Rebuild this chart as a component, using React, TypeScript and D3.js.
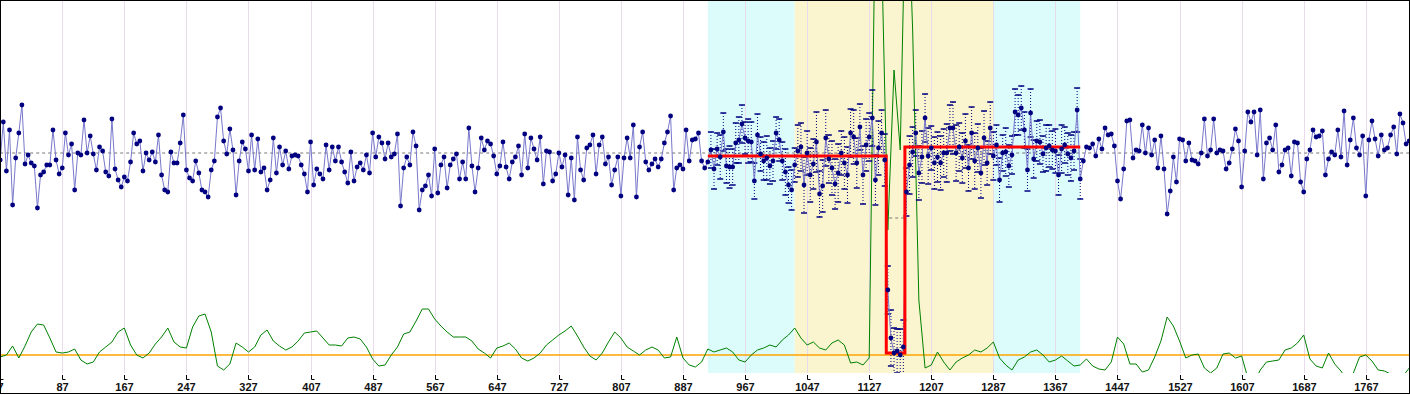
import * as d3 from "d3";
import { useEffect, useRef } from "react";

// chart size
const W = 1410;
const H = 395;
const plotBottom = 373;

// x axis (sample number)
const xFirst = 7;
const xLast = 1824;
const sampleStep = 4;
const greenStep = 8;
const tickLabels = [7, 87, 167, 247, 327, 407, 487, 567, 647, 727, 807, 887, 967, 1047, 1127, 1207, 1287, 1367, 1447, 1527, 1607, 1687, 1767];

// measured signal, one value every 4 samples, relative to the overall level
const signal = [
  -7, 31, -18, 23, -52, -5, 20, 48, -11, -2,
  -10, -13, -55, -22, -19, -12, -12, 23, -7, -21,
  -15, 20, -2, 9, -37, 0, -2, 33, 0, 17,
  -1, -17, 6, 2, -19, -23, 34, -16, -27, -34,
  -24, -28, -9, 20, 9, 12, -18, 0, -7, 1,
  -9, 18, -22, -37, -39, 1, -10, -10, 10, 38,
  -17, -25, -28, -8, -20, -37, -39, -44, -17, -8,
  36, 45, 12, -1, 24, 3, -42, -8, 11, 4,
  -18, 18, -17, 14, -19, -15, -37, -27, 15, -20,
  6, -12, 2, -16, -3, -2, -3, -12, -21, -39,
  11, -32, -16, -21, -26, 8, -17, 6, -8, 6,
  -9, -19, -30, 1, -28,
  -14, -10, -17, -2, -20, 20, -4, 16, 10, -6,
  10, -4, -1, 19, -53, -15, -4, -12, 21, 7,
  -57, -37, -33, -22, -43, 4, -40, -12, -4, -35,
  -12, -6, -1, -26, -9, -26, 25, -13, -39, -15,
  15, 3, 12, 9, -3, -21, -13, 11, -14, -26,
  -9, -4, 7, -22, 19, -15, 15, 4, -7, 16,
  -31, 2, 1, -28, -21, 0, -14, -2, -42, -5,
  -47, 16, -17, -27, 5, 8, 18, -21, 8, 16,
  -11, -4, -32, -17, -4, -43, -5, 15, -5, 28,
  -44, 6, 21, -9, -17, -11, -6, -14, -6, 10,
  21, 37, -37, -15, -12, -16, 23, -8, 13, 14,
  20, -8, -15, -9,
  3, -16, 4, -4, 21, -13, -14, -14, 10, 13,
  29, 15, 12, 11, -28, 18, -1, -8, -5, -13,
  -8, 20, 13, -8, -19, -32, -37, -12, 2, 6,
  -32, 0, -22, -11, 11, -41, -33, 15, -6, -15,
  -31, -20, 0, -10, -22,
  20, 16, -10, 26, -22, 8, 16, 35, -27, 5,
  20, -7, -137, -185, -200, -198, -202, -194, -39, -12,
  1, 20, -20, -4, 35, -3, 5, -10, -4, -10,
  0, 0, 25, 25, 0, 6,
  -5, 12, -15, 20, -8, 5, -20, 15, -10, 25, -3, 8,
  -27, 0, 1, -13, -2, 41, 38, 45, 23, -17,
  40, -6, 12, 11, -1, 5, 7, 3, 2, -22,
  4, 8, -1, -5, 2, 43, -26, -8, 6, 5,
  9, -3, 14, 4, 25, 18, 19, 7, -28, -46,
  -16, 32, 33, -5, 3, 2, 28, 0, 25, -2,
  13, -15, 17, -16, -61, -38, -4, -29, 14, 13,
  -8, 10, -7, -8, -11, 0, 34, -3, 3, 34,
  0, 3, 2, -16, -10, 4, 24, 12,
  -34, 2, 41, 31, 41, -2, 43, -26, 10, 15,
  3, 28, -19, -12, 3, 5, -23, 11, 10, -29,
  -39, -6, 3, 23, 16, 17, 22, -22, -6, 1,
  -2, 23, -4, 42, -12, 13, 35, 5, -2, 17,
  -43, 13, 32, 14, -3, 18, 3, 5, 18, 26,
  -1, 39, 30, 9, 12,
];

// uncertainty of the signal inside the examined window (index 229 .. 348)
const errFirstIndex = 229;
const errHalf = [
  18, 20, 16, 22, 19, 17, 21, 18, 20, 23, 19, 16, 22, 20, 18, 21, 17, 19, 22, 18, 20, 16, 21, 19, 23, 18, 20, 17,
  26, 24, 28, 22, 27, 25, 30, 23, 26, 28, 24, 27, 25, 29, 22, 26, 28, 24, 27, 25, 23, 29, 26, 24, 28, 25, 27, 23,
  26, 24, 28, 25, 22, 26, 27, 24, 29, 25, 23, 27, 26, 24, 28, 22, 26, 25, 27, 24, 29, 23, 26, 28, 24, 25, 27, 23,
  26, 28, 24, 25, 27, 22, 26, 24,
  20, 22, 18, 24, 21, 19, 23, 20, 22, 18, 21, 24, 19, 20, 22, 18, 23, 21, 19, 22, 20, 24, 18, 21, 23, 19, 22, 20,
];

// detection statistic, one value every 8 samples
const statistic = [
  -2, 0, 9, -3, 9, 23, 31, 30, 17, 3, 2, 3, 6, -5, -9, -7, 3, 8, 13, 23,
  27, 10, 0, -3, 2, 11, 18, 27, 13, 8, 7, 28, 39, 41, 23, -11, -15, -9, 12, 8,
  3, 8, 20, 25, 14, 9, 5, 8, 14, 22, 23, 24, 17, 10, 10, 9, 17, 18, 16, 8,
  -4, -11, -10, 0, 8, 21, 23, 34, 46, 46, 36, 29, 23, 18, 18, 18, 14, 6, 2, -3,
  7, 9, 12, 6, -3, -6, -3, 2, 10, 15, 20, 24, 29, 19, 8, -1, -5, 2, 13, 23,
  17, 8, 4, 0, 5, 8, 5, -3, -2, 18, -3, -10, -12, -7, 6,
  3, 5, 7, 3, -5, -7, 0, 5, 7, 10, 8, 15, 20, 27, 17, 10, 13, 7, 5, 12,
  15, 10, -8, -7, -10, -3, 455, 405, 125, 285, 205, 505, 325, 55, -13, -10, 3, -7, -15, -7,
  -3, 0, 5, 3, 7, 13, -3, -10, -15, -5, -2, 3, 5, 0, -7,
  -5, -1, -6, -11, -10, -4, -11, -14, -15, -7, 18, 11, -9, -9, -17, -15, -2, 14, 38, 29,
  14, -3, 0, 1, -13, -18, -13, 1, 2, -3, -1, -23, -28, -15, -7, -6, -5, 5, 7, 12,
  20, -4, -11, -13, 2, -9, -16, -25, -18, -2, 0, -6, -15, -16, -19, -23, -21, -13,
];

// fitted level and overall level, as [from sample, to sample, level]
const fitSegments = [
  [919, 1149, -3],
  [1149, 1173, -200],
  [1173, 1399, 6],
];
const baseSegments = [
  [7, 1149, 0],
  [1149, 1173, -65],
  [1173, 1824, 0],
];

// examined window: outer and inner part
const bandRanges = [
  [919, 1031],
  [1031, 1287],
  [1287, 1399],
];
const bandKinds = ["outer", "inner", "outer"];

const bandFill: Record<string, string> = { outer: "#dcfcfc", inner: "#fbf5cf" };

const App = () => {
  const ref = useRef<SVGSVGElement>(null);

  useEffect(() => {
    const svg = d3.select(ref.current);
    svg.selectAll("*").remove();

    const x = d3.scaleLinear().domain([xFirst, xLast]).range([0.2, W]);
    const y = d3.scaleLinear().domain([-220, 153]).range([plotBottom, 0]);
    const yStat = d3.scaleLinear().domain([-18, 355]).range([plotBottom, 0]);

    svg.append("defs")
      .append("clipPath")
      .attr("id", "plotClip")
      .append("rect")
      .attr("x", 0)
      .attr("y", 0)
      .attr("width", W)
      .attr("height", plotBottom);

    svg.append("rect").attr("width", W).attr("height", H).attr("fill", "#fff");

    const plot = svg.append("g").attr("clip-path", "url(#plotClip)");

    // window bands
    bandRanges.forEach(([a, b], k) => {
      plot.append("rect")
        .attr("x", x(a))
        .attr("y", 0)
        .attr("width", x(b) - x(a))
        .attr("height", plotBottom)
        .attr("fill", bandFill[bandKinds[k]]);
    });

    // grid
    tickLabels.forEach(t => {
      const px = Math.round(x(t)) + 0.5;
      plot.append("line")
        .attr("x1", px).attr("x2", px)
        .attr("y1", 0).attr("y2", plotBottom)
        .attr("stroke", "#e8dbec");
    });

    // statistic baseline
    plot.append("line")
      .attr("x1", 0).attr("x2", W)
      .attr("y1", yStat(0)).attr("y2", yStat(0))
      .attr("stroke", "#ffa500")
      .attr("stroke-width", 1.5);

    const segPoints = (segs: number[][]) => segs.flatMap(([a, b, v]) => [[a, v], [b, v]] as [number, number][]);
    const line = d3.line<[number, number]>().x(d => x(d[0])).y(d => y(d[1]));

    // overall level
    plot.append("path")
      .attr("d", line(segPoints(baseSegments)))
      .attr("fill", "none")
      .attr("stroke", "#777")
      .attr("stroke-dasharray", "3,3");

    // statistic
    const statLine = d3.line<number>()
      .x((_, i) => x(xFirst + i * greenStep))
      .y(d => yStat(d));
    plot.append("path")
      .attr("d", statLine(statistic))
      .attr("fill", "none")
      .attr("stroke", "#008000")
      .attr("stroke-width", 1);

    // error bars
    errHalf.forEach((e, k) => {
      const i = errFirstIndex + k;
      const px = x(xFirst + i * sampleStep);
      const v = signal[i];
      plot.append("line")
        .attr("x1", px).attr("x2", px)
        .attr("y1", y(v + e)).attr("y2", y(v - e))
        .attr("stroke", "#000080")
        .attr("stroke-dasharray", "1,2");
      [v + e, v - e].forEach(c => {
        plot.append("line")
          .attr("x1", px - 3).attr("x2", px + 3)
          .attr("y1", y(c)).attr("y2", y(c))
          .attr("stroke", "#000080")
          .attr("stroke-width", 1.5);
      });
    });

    // signal line
    const sigLine = d3.line<number>()
      .x((_, i) => x(xFirst + i * sampleStep))
      .y(d => y(d));
    plot.append("path")
      .attr("d", sigLine(signal))
      .attr("fill", "none")
      .attr("stroke", "#7878cc")
      .attr("stroke-width", 1);

    // fitted level
    plot.append("path")
      .attr("d", line(segPoints(fitSegments)))
      .attr("fill", "none")
      .attr("stroke", "#ff0000")
      .attr("stroke-width", 3);

    // markers
    plot.selectAll(".dot")
      .data(signal)
      .enter()
      .append("circle")
      .attr("cx", (_, i) => x(xFirst + i * sampleStep))
      .attr("cy", d => y(d))
      .attr("r", 2.4)
      .attr("fill", "#000080");

    // axis ticks and labels
    tickLabels.forEach(t => {
      const px = Math.round(x(t)) + 0.5;
      svg.append("path")
        .attr("d", `M${px},375V379.5H${px + 3}`)
        .attr("fill", "none")
        .attr("stroke", "#000");
      svg.append("text")
        .attr("x", px)
        .attr("y", 391)
        .attr("text-anchor", "middle")
        .attr("font-family", "Liberation Sans, Arial, sans-serif")
        .attr("font-size", 11)
        .attr("font-weight", "bold")
        .attr("fill", "#111")
        .text(t);
    });

    // frame
    svg.append("rect")
      .attr("x", 0.5).attr("y", 0.5)
      .attr("width", W - 1).attr("height", 393)
      .attr("fill", "none")
      .attr("stroke", "#000");
  }, []);

  return (
    <div>
      <style>{"body{margin:0}"}</style>
      <svg ref={ref} width={W} height={H} style={{ display: "block" }} />
    </div>
  );
};

export default App;
